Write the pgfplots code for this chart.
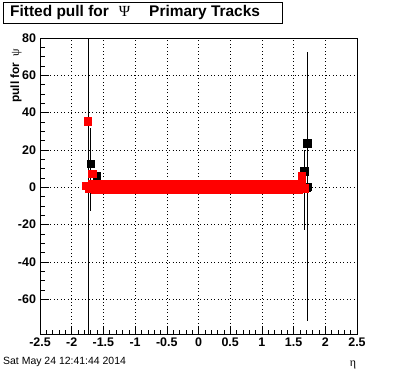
\documentclass[border=0pt]{standalone}
\usepackage{pgfplots}
\pgfplotsset{compat=1.18}
\usepackage{fontspec}
\setmainfont{Liberation Sans}
\newfontfamily\greek{Liberation Serif}

\pgfplotstableread{
x y
-1.78 0.8
-1.73 -0.9
-1.68 1.5
-1.63 -1.0
-1.58 1.6
-1.53 -1.1
-1.48 1.5
-1.43 -1.0
-1.38 1.6
-1.33 -1.1
-1.28 1.5
-1.23 -1.0
-1.18 1.6
-1.13 -1.1
-1.08 1.5
-1.03 -1.0
-0.98 1.6
-0.93 -1.1
-0.88 1.5
-0.83 -1.0
-0.78 1.6
-0.73 -1.1
-0.68 1.5
-0.63 -1.0
-0.58 1.6
-0.53 -1.1
-0.48 1.5
-0.43 -1.0
-0.38 1.6
-0.33 -1.1
-0.28 1.5
-0.23 -1.0
-0.18 1.6
-0.13 -1.1
-0.08 1.5
-0.03 -1.0
0.02 1.6
0.07 -1.1
0.12 1.5
0.17 -1.0
0.22 1.6
0.27 -1.1
0.32 1.5
0.37 -1.0
0.42 1.6
0.47 -1.1
0.52 1.5
0.57 -1.0
0.62 1.6
0.67 -1.1
0.72 1.5
0.77 -1.0
0.82 1.6
0.87 -1.1
0.92 1.5
0.97 -1.0
1.02 1.6
1.07 -1.1
1.12 1.5
1.17 -1.0
1.22 1.6
1.27 -1.1
1.32 1.5
1.37 -1.0
1.42 1.6
1.47 -1.1
1.52 1.5
1.57 -1.0
1.62 1.6
1.67 -0.6
}\redband

\pgfplotstableread{
x y ep em
-1.745 35.3 60 120
-1.680 7.3 0 0
1.628 5.9 0 0
}\redout

\pgfplotstableread{
x y ep em
-1.700 12.6 19.4 25.6
-1.606 6.0 0 0
1.669 8.7 11.3 31.7
1.711 23.6 0 0
1.716 0.3 72 72
1.700 0.0 0 0
}\blackpts

\begin{document}
\begin{tikzpicture}[x=1bp,y=1bp]
\useasboundingbox (0,0) rectangle (396,372);
\fill[white] (0,0) rectangle (396,372);
\begin{axis}[
  at={(40bp,38bp)}, anchor=south west,
  scale only axis, width=317bp, height=296bp,
  xmin=-2.5, xmax=2.5, ymin=-78.7, ymax=80,
  xtick={-2.5,-2,-1.5,-1,-0.5,0,0.5,1,1.5,2,2.5},
  ytick={-60,-40,-20,0,20,40,60,80},
  minor x tick num=4, minor y tick num=3,
  tick align=inside, xtick pos=bottom, ytick pos=left,
  major tick length=8.5bp, minor tick length=4.5bp,
  tick style={black, line width=0.5pt},
  grid=major, major grid style={black, line width=0.6pt, dash pattern=on 1pt off 2.5pt},
  axis line style={line width=0.8pt},
  /pgf/number format/assume math mode=true,
  ticklabel style={font=\fontsize{12.5}{14}\selectfont\bfseries},
  xticklabel style={yshift=-0.5bp},
  yticklabel style={xshift=-0.5bp},
  xlabel={{\greek\fontsize{12}{14}\selectfont η}},
  xlabel style={at={(axis description cs:0.987,-0.106)}, anchor=center},
  ylabel={\bfseries\fontsize{12}{14}\selectfont pull for\hspace{6bp}{\greek\mdseries ψ}},
  ylabel style={at={(axis description cs:-0.0757,0.975)}, anchor=east, rotate=0},
  clip=true,
  error bars/error bar style={black, line width=0.6pt},
  error bars/error mark=none,
]
\addplot[only marks, mark=square*, mark size=3.8bp, black,
  error bars/.cd, y dir=both, y explicit]
  table[x=x, y=y, y error plus=ep, y error minus=em] {\blackpts};
\addplot[only marks, mark=square*, mark size=3.8bp, red]
  table[x=x, y=y] {\redband};
\addplot[only marks, mark=square*, mark size=3.8bp, red,
  error bars/.cd, y dir=both, y explicit]
  table[x=x, y=y, y error plus=ep, y error minus=em] {\redout};
\end{axis}
\draw[line width=0.8pt] (3,349) rectangle (282,370);
\node[anchor=west, inner sep=0pt] at (10,359.5) {\fontsize{15.5}{17}\selectfont\bfseries Fitted pull for\hspace{10bp}{\greek\mdseries Ψ}\hspace{19bp}Primary Tracks};
\node[anchor=west, inner sep=0pt] at (3,10) {\fontsize{10.5}{12}\selectfont Sat May 24 12:41:44 2014};
\end{tikzpicture}
\end{document}
